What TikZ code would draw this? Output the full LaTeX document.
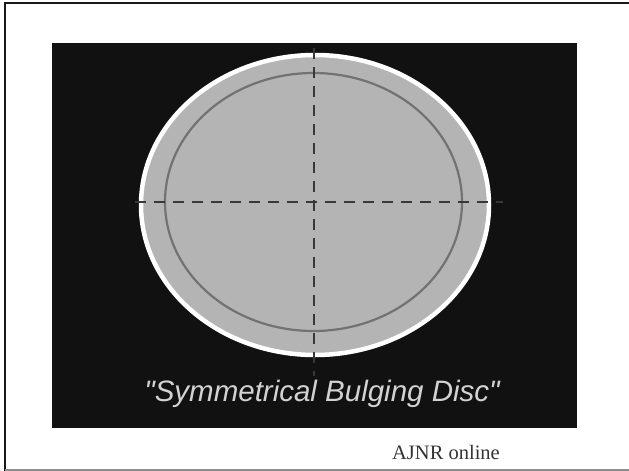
\documentclass[tikz,border=0pt]{standalone}
\usepackage{xcolor}
\usepackage{tikz}
\usepackage{fontspec}
\setmainfont{Liberation Serif}
\newfontfamily\discfont{Liberation Sans}
\definecolor{discblack}{HTML}{111111}
\definecolor{discgray}{HTML}{B4B4B4}
\definecolor{discring}{HTML}{727272}
\definecolor{discdash}{HTML}{383838}
\definecolor{disctext}{HTML}{D2D2D2}

\begin{document}
\begin{tikzpicture}[x=1pt,y=-1pt]
  \useasboundingbox (0,0) rectangle (629,471);
  % frame of the slide
  \draw[black!90,line width=2pt] (5,471) -- (5,3) -- (629,3);
  \draw[black!45,line width=2pt] (5,469.5) -- (629,469.5);
  % dark panel
  \fill[discblack] (52,43) rectangle (577,428);
  % disc
  \fill[discgray,draw=white,line width=4.5pt] (315,205) ellipse[x radius=174, y radius=150];
  \draw[discring,line width=2.2pt] (313.5,202) ellipse[x radius=148.5, y radius=129];
  % axes
  \draw[discdash,line width=2.8pt,dash pattern=on 11pt off 8pt] (135,202) -- (503,202);
  \draw[discdash,line width=2.8pt,dash pattern=on 11pt off 8pt] (314,48) -- (314,376);
  % labels
  \node[text=disctext,anchor=base,font=\discfont\itshape\fontsize{29.5}{31}\selectfont] (title) at (322,401) {"Symmetrical Bulging Disc"};
  \node[text=black!80,anchor=base,font=\fontsize{20.5}{22}\selectfont] (source) at (446,459) {AJNR online};
\end{tikzpicture}
\end{document}
